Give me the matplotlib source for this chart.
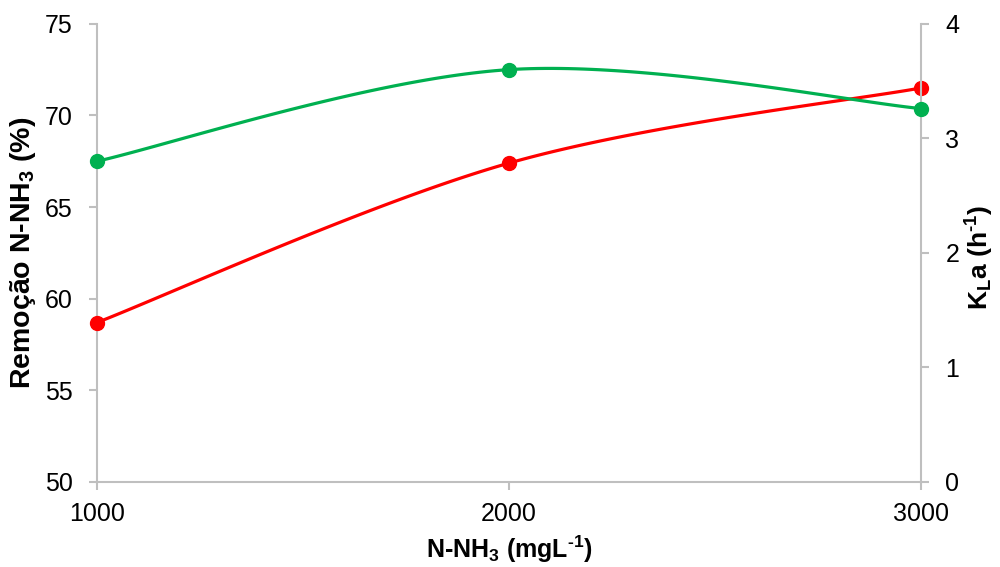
import numpy as np
import matplotlib
matplotlib.use('Agg')
import matplotlib.pyplot as plt

plt.rcParams['font.family'] = ['Liberation Sans', 'DejaVu Sans']
plt.rcParams['mathtext.fontset'] = 'custom'
plt.rcParams['mathtext.rm'] = 'Liberation Sans:bold'
plt.rcParams['mathtext.it'] = 'Liberation Sans:bold'
plt.rcParams['mathtext.bf'] = 'Liberation Sans:bold'

# dados
n_nh3 = [1000, 2000, 3000]
remocao = [58.7, 67.4, 71.5]
kla = [2.80, 3.60, 3.26]

VERMELHO = '#FF0000'
VERDE = '#00B050'
CINZA = '#BFBFBF'


def suavizar(x, y, n=60):
    # curva suave estilo Excel (Catmull-Rom / Bezier)
    x = np.asarray(x, float)
    y = np.asarray(y, float)
    p = np.column_stack([x, y])
    pts = np.vstack([p[0], p, p[-1]])
    out = []
    t = np.linspace(0, 1, n)[:, None]
    for i in range(1, len(pts) - 2):
        p0, p1, p2, p3 = pts[i - 1], pts[i], pts[i + 1], pts[i + 2]
        c1 = p1 + (p2 - p0) / 6
        c2 = p2 - (p3 - p1) / 6
        seg = ((1 - t) ** 3) * p1 + 3 * ((1 - t) ** 2) * t * c1 + 3 * (1 - t) * t ** 2 * c2 + t ** 3 * p2
        out.append(seg)
    out = np.vstack(out)
    return out[:, 0], out[:, 1]


fig = plt.figure(figsize=(10, 5.67), dpi=100)
ax = fig.add_axes([0.097, 0.150, 0.824, 0.808])
ax2 = ax.twinx()

sx, sy = suavizar(n_nh3, remocao)
ax.plot(sx, sy, color=VERMELHO, lw=2.3, clip_on=False, zorder=3)
ax.plot(n_nh3, remocao, 'o', color=VERMELHO, ms=10, clip_on=False, zorder=4)

sx, sy = suavizar(n_nh3, kla)
ax2.plot(sx, sy, color=VERDE, lw=2.3, clip_on=False, zorder=3)
ax2.plot(n_nh3, kla, 'o', color=VERDE, ms=10, clip_on=False, zorder=4)

ax.set_xlim(1000, 3000)
ax.set_ylim(50, 75)
ax2.set_ylim(0, 4)
ax.set_xticks(n_nh3)
ax.set_yticks(range(50, 76, 5))
ax2.set_yticks(range(0, 5))

for a in (ax, ax2):
    a.spines['top'].set_visible(False)
    for s in ('left', 'right', 'bottom'):
        a.spines[s].set_color(CINZA)
        a.spines[s].set_linewidth(1.5)
    a.tick_params(colors=CINZA, labelcolor='black', labelsize=18, width=1.5, length=5.5, pad=12)
ax.spines['right'].set_visible(False)
ax2.spines['left'].set_visible(False)
ax2.spines['bottom'].set_visible(False)
ax.tick_params(axis='x', pad=9)

ax.set_xlabel(r'N-NH$_{3}$ (mgL$^{\text{-}1}$)', fontsize=18, fontweight='bold')
ax.set_ylabel(r'Remoção N-NH$_{3}$ (%)', fontsize=20.5, fontweight='bold')
ax2.set_ylabel(r'K$_{L}$a (h$^{\text{-}1}$)', fontsize=19, fontweight='bold')
ax.xaxis.set_label_coords(0.5, -0.112)
ax.yaxis.set_label_coords(-0.072, 0.5)
ax2.yaxis.set_label_coords(1.052, 0.49)

fig.savefig('out.png', dpi=100)
